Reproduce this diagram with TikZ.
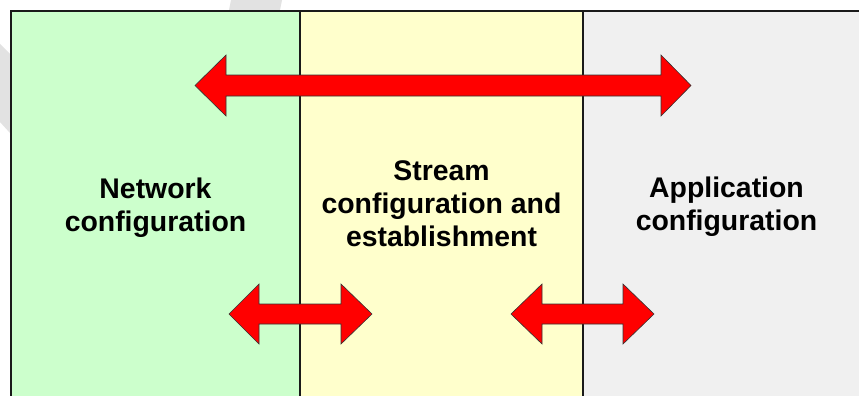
\documentclass[tikz,border=0pt]{standalone}
\usepackage{fontspec}
\setmainfont{Liberation Sans}
\definecolor{netgreen}{HTML}{CCFFCC}
\definecolor{strmyellow}{HTML}{FFFFCC}
\definecolor{appgrey}{HTML}{F0F0F0}
\definecolor{wmgrey}{HTML}{E2E2E2}
\definecolor{frameline}{HTML}{1A1A1A}
\begin{document}
\begin{tikzpicture}[x=1pt,y=-1pt,
  panel/.style={draw=frameline,line width=1.2pt},
  redarrow/.style={fill=red,draw=black!80,line width=0.6pt,line join=miter},
  label/.style={font=\fontsize{28.4}{33}\selectfont\bfseries,align=center,inner sep=0pt,anchor=base}]
\useasboundingbox (0,0) rectangle (859,396);
\fill[white] (0,0) rectangle (859,396);
% watermark fragments
\fill[wmgrey] (231,0) -- (282,0) -- (276,30) -- (225,30) -- cycle;
\fill[wmgrey] (0,44) -- (20,64) -- (20,144) -- (0,122) -- cycle;
% panels
\fill[netgreen] (11,11) rectangle (300,400);
\fill[strmyellow] (300,11) rectangle (583,400);
\fill[appgrey] (583,11) rectangle (862,400);
\draw[panel] (11,400) -- (11,11) -- (862,11);
\draw[panel] (300,11) -- (300,400);
\draw[panel] (583,11) -- (583,400);
% big arrow
\draw[redarrow] (195,85.5) -- (226,55) -- (226,75) -- (661,75) -- (661,55) -- (691,85.5)
  -- (661,116) -- (661,96) -- (226,96) -- (226,116) -- cycle;
% small arrows
\draw[redarrow] (229,314) -- (259,284) -- (259,304) -- (341,304) -- (341,284) -- (372,314)
  -- (341,344) -- (341,324) -- (259,324) -- (259,344) -- cycle;
\draw[redarrow] (511,314) -- (542,284) -- (542,304) -- (623,304) -- (623,284) -- (654,314)
  -- (623,344) -- (623,324) -- (542,324) -- (542,344) -- cycle;
% labels
\node[label] (net) at (155.5,231) {Network\\configuration};
\node[label] (strm) at (441.5,246.7) {Stream\\configuration and\\establishment};
\node[label] (app) at (726.5,230) {Application\\configuration};
\end{tikzpicture}
\end{document}
